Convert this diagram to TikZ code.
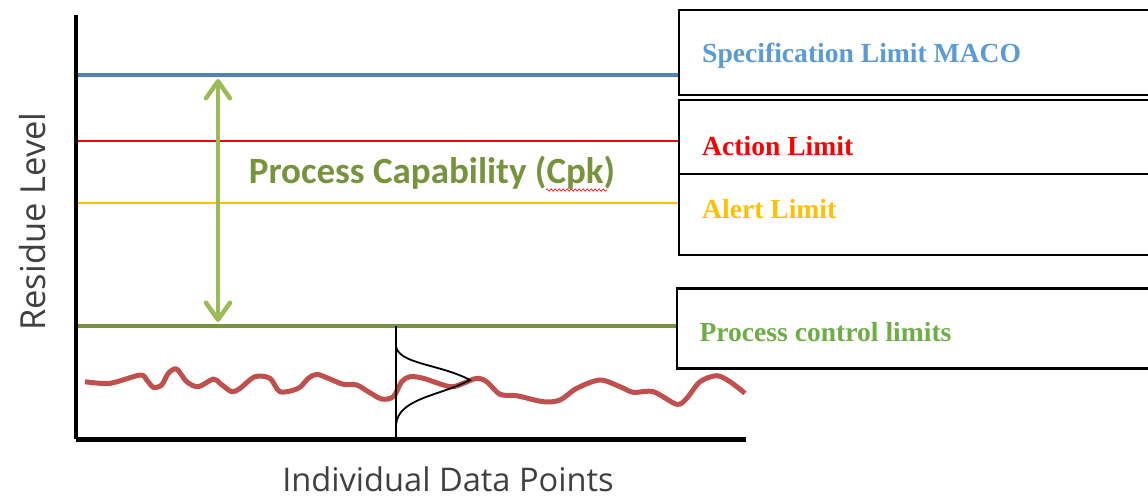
\documentclass[tikz,border=0pt]{standalone}
\usepackage{fontspec, graphicx}
\setmainfont{Liberation Serif}
\newfontfamily\labelfont{Open Sans}
\newfontfamily\capfont{Carlito}
\usetikzlibrary{positioning, calc, arrows.meta, decorations.pathmorphing}

\definecolor{specblue}{RGB}{79,129,189}
\definecolor{spectext}{RGB}{91,155,213}
\definecolor{alertyellow}{RGB}{255,192,0}
\definecolor{ctrlgreen}{RGB}{119,147,60}
\definecolor{arrowgreen}{RGB}{155,187,89}
\definecolor{ctrltext}{RGB}{112,173,71}
\definecolor{datared}{RGB}{192,80,77}
\definecolor{axisgray}{RGB}{64,64,64}

\begin{document}
\begin{tikzpicture}[x=1pt, y=-1pt,
    limbox/.style={draw=black, line width=2.3pt, minimum width=480pt, anchor=north west, inner sep=0pt},
    limtext/.style={anchor=base west, inner sep=0pt, font=\fontsize{27.6}{30}\selectfont\bfseries},
    axislabel/.style={font=\labelfont\fontsize{34.5}{36}\selectfont, text=axisgray, inner sep=0pt},
    capbarb/.tip={Straight Barb[length=17pt, width=24pt, line width=4.5pt, round]}]
   \clip (0,0) rectangle (1148,499);

   % limit boxes
   \node[limbox, minimum height=85pt] (spec) at (678,9) {};
   \node[limbox, minimum height=74pt] (action) at (678,98.7) {};
   \node[limbox, minimum height=81.3pt] (alert) at (678,172.7) {};
   \node[limbox, minimum height=80pt] (ctrl) at (676,287.3) {};

   \node[limtext, text=spectext] (spectxt) at (702,62.7) {Specification Limit MACO};
   \node[limtext, text=red] (actiontxt) at (702,155) {Action Limit};
   \node[limtext, text=alertyellow] (alerttxt) at (702,218.3) {Alert Limit};
   \node[limtext, text=ctrltext] (ctrltxt) at (699.3,341.7) {Process control limits};

   % limit lines
   \coordinate (specy) at (78,75);
   \coordinate (actiony) at (78,141);
   \coordinate (alerty) at (78,203);
   \coordinate (ctrly) at (78,326);
   \draw[specblue, line width=3.5pt] (specy) -- (specy -| spec.west);
   \draw[red, line width=2pt] (actiony) -- (actiony -| action.west);
   \draw[alertyellow, line width=2.5pt] (alerty) -- (alerty -| alert.west);
   \draw[ctrlgreen, line width=4.5pt] (ctrly) -- (ctrly -| ctrl.west);

   % axes
   \coordinate (origin) at (76,439);
   \coordinate (ytop) at (76,15);
   \coordinate (xend) at (746,439);
   \draw[line width=4pt] (ytop) -- (origin);
   \draw[line width=5pt] (origin) -- (xend);

   % capability arrow
   \coordinate (captop) at (218,79);
   \coordinate (capbot) at (218,322);
   \draw[arrowgreen, line width=4.5pt, capbarb-capbarb] (captop) -- (capbot);
   \node[text=ctrlgreen, font=\capfont\bfseries\fontsize{37}{40}\selectfont, inner sep=0pt] (captxt) at (432,173) {Process Capability (Cpk)};
   \draw[red, line width=0.6pt, decorate, decoration={snake, amplitude=1.2pt, segment length=4pt}] (546,190) -- (607,190);

   % data and distribution
   \draw[datared, line width=5pt, line join=round] plot[smooth, tension=0.5] coordinates {
      (85,381.7) (110,383.3) (140,375) (146.7,380) (153.3,387.3) (161.7,385)
      (168.3,373.3) (176.7,369) (186.7,381.7) (198.3,386.7) (213.3,379) (220,383.3)
      (231.7,391.7) (240,388.3) (255,376.7) (270,378.3) (280,391.7) (298.3,388.3)
      (308.3,378.3) (316.7,374.3) (328.3,378.3) (343.3,384.3) (356.7,385) (368.3,391.7)
      (381.7,399) (393.3,396.7) (401.7,381.7) (410,376.7) (423.3,378.3) (450,386.7)
      (463.3,383.3) (476.7,378.3) (486.7,381.7) (500,394.3) (516.7,395.7) (543.3,401.7)
      (560,400) (576.7,388.3) (600,380) (620,386.7) (633.3,392.3) (653.3,391.7)
      (676.7,404.3) (686.7,398.3) (700,381.7) (716.7,375.7) (730,381.7) (745,393.3)};
   \coordinate (meantop) at (396,326);
   \coordinate (meanbot) at (396,439);
   \coordinate (peak) at (470,380);
   \draw[line width=1.8pt] (meantop) -- (meanbot);
   \draw[line width=1.8pt] (396,346) .. controls (398,364) and (440,364) .. (peak)
      .. controls (440,396) and (398,398) .. (396,425);

   % axis labels
   \node[axislabel, rotate=90] (ylab) at (33,221.5) {Residue Level};
   \node[axislabel, font=\labelfont\fontsize{32.6}{36}\selectfont, anchor=base] (xlab) at (448,491.5) {Individual Data Points};
\end{tikzpicture}
\end{document}
